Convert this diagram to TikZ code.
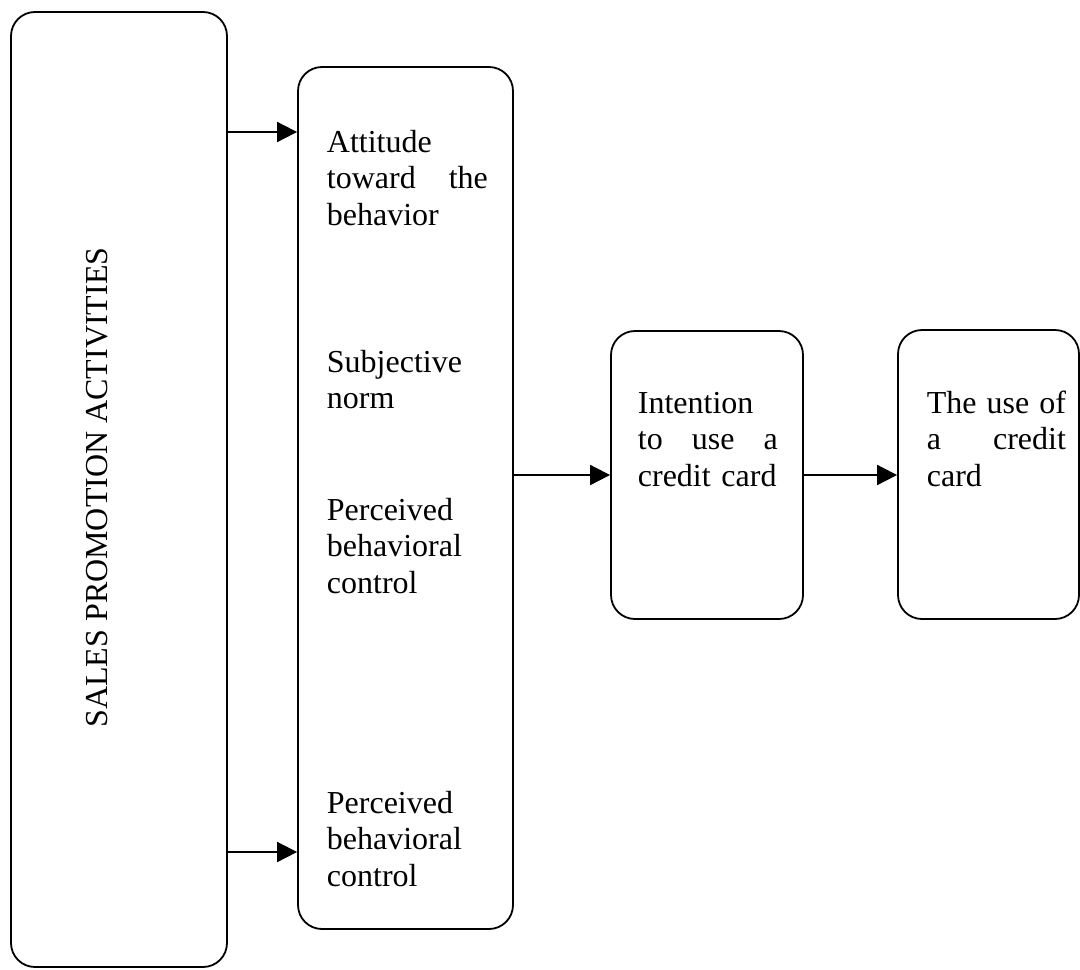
\documentclass[tikz,border=0pt]{standalone}
\usepackage{fontspec}
\setmainfont{Liberation Serif}
\usetikzlibrary{arrows.meta, positioning}
\newcommand{\spreadline}[1]{\makebox[\hsize][s]{\spaceskip=0.25em plus 1fil\relax #1}}
\tikzset{
  every picture/.style={line width=0.9pt},
  box/.style={draw=black, rounded corners=12pt, inner sep=0pt},
  link/.style={-{Triangle[length=10pt, width=10pt]}, draw=black},
  txt/.style={font=\fontsize{16}{18.4}\selectfont, inner sep=0pt, anchor=base west, align=left, text width=#1},
  txt/.default=80.5pt,
}

\begin{document}
\begin{tikzpicture}[x=0.5pt, y=-0.5pt]
  \useasboundingbox (0,0) rectangle (1080,969);
  \node[box, minimum width=108pt, minimum height=477.5pt] (promo) at (119,489.5) {};
  \node[box, minimum width=107.5pt, minimum height=431pt] (tpb) at (405.5,498) {};
  \node[box, minimum width=96pt, minimum height=144pt] (intent) at (707,475) {};
  \node[box, minimum width=90.5pt, minimum height=144.5pt] (usage) at (988.5,474.5) {};
  \node[font=\fontsize{16}{18.4}\selectfont, inner sep=0pt, anchor=base, rotate=90] (promotxt) at (107,487.5) {SALES PROMOTION ACTIVITIES};
  \node[txt] (att) at (326,152) {Attitude\\ \spreadline{toward the}\\ behavior};
  \node[txt] (norm) at (326,372) {Subjective\\ norm};
  \node[txt] (pbc) at (326,520) {Perceived\\ behavioral\\ control};
  \node[txt] (pbclow) at (326,813) {Perceived\\ behavioral\\ control};
  \node[txt=70pt] (intenttxt) at (637,413) {Intention\\ \spreadline{to use a}\\ credit card};
  \node[txt=69.5pt] (usagetxt) at (926,413) {\spreadline{The use of}\\ \spreadline{a credit}\\ card};
  \draw[link] (promo.east |- 0,132) -- (tpb.west |- 0,132);
  \draw[link] (promo.east |- 0,852) -- (tpb.west |- 0,852);
  \draw[link] (tpb.east |- intent.west) -- (intent.west);
  \draw[link] (intent.east) -- (usage.west |- intent.east);
\end{tikzpicture}
\end{document}
